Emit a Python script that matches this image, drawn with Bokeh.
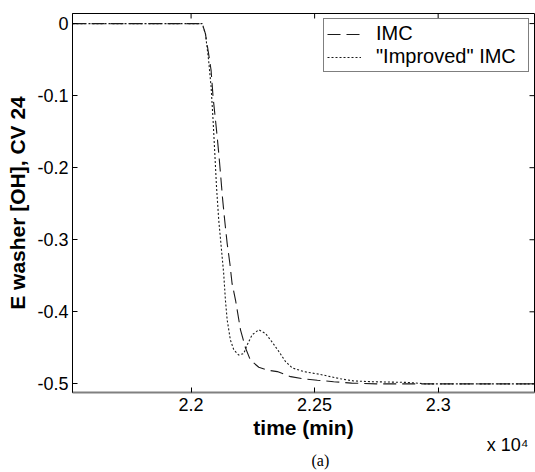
from bokeh.plotting import figure
from bokeh.models import Range1d, FixedTicker, Legend, LegendItem, Title
from bokeh.embed import file_html
from bokeh.resources import INLINE

# ---- data ----
imc_t = [21520, 22045, 22058, 22071, 22081, 22089, 22103, 22112, 22119, 22128,
         22136, 22146, 22157, 22166, 22180, 22200, 22220, 22240, 22274, 22308,
         22349, 22403, 22455, 22511, 22577, 22650, 22750, 22900, 23390]
imc_v = [0.0, 0.0, -0.014, -0.042, -0.065, -0.102, -0.148, -0.180, -0.208, -0.245,
         -0.273, -0.305, -0.333, -0.361, -0.384, -0.425, -0.450, -0.467, -0.477, -0.481,
         -0.483, -0.490, -0.493, -0.495, -0.497, -0.499, -0.500, -0.500, -0.500]

imp_t = [21520, 22045, 22058, 22071, 22081, 22089, 22096, 22103, 22112, 22122,
         22132, 22139, 22146, 22159, 22173, 22193, 22213, 22227, 22247, 22274,
         22301, 22328, 22355, 22382, 22410, 22457, 22524, 22605, 22659, 22727,
         22876, 22950, 23390]
imp_v = [0.0, 0.0, -0.014, -0.051, -0.088, -0.134, -0.180, -0.227, -0.273, -0.310,
         -0.347, -0.384, -0.411, -0.439, -0.453, -0.460, -0.458, -0.446, -0.432, -0.425,
         -0.430, -0.442, -0.455, -0.469, -0.478, -0.483, -0.487, -0.493, -0.496, -0.497,
         -0.498, -0.500, -0.500]

x_ticks = [22000, 22500, 23000]
x_tick_labels = ["2.2", "2.25", "2.3"]
y_ticks = [0.0, -0.1, -0.2, -0.3, -0.4, -0.5]
y_tick_labels = ["0", "-0.1", "-0.2", "-0.3", "-0.4", "-0.5"]

series_names = ["IMC", '"Improved" IMC']
x_label = "time (min)"
y_label = "E washer [OH], CV 24"
exp_label = "x 10\u2074"
caption = "(a)"

X_START, X_END = 21520, 23390
Y_START, Y_END = -0.512, 0.014

FONT = "Liberation Sans"

p = figure(width=535, height=472, output_backend="svg", toolbar_location=None,
           x_range=Range1d(X_START, X_END), y_range=Range1d(Y_START, Y_END),
           min_border_left=72, min_border_right=1, min_border_top=13,
           min_border_bottom=80)
p.background_fill_color = "white"
p.border_fill_color = "white"
p.outline_line_color = "black"
p.outline_line_width = 1
p.xgrid.visible = False
p.ygrid.visible = False

r1 = p.line(imc_t, imc_v, line_color="#1a1a1a", line_width=1.1, line_dash="13 6")
r2 = p.line(imp_t, imp_v, line_color="#1a1a1a", line_width=1.1, line_dash="2 2")

# inward ticks on the top and right edges (half of each dash is clipped by the frame)
p.scatter(x=x_ticks, y=[Y_END] * len(x_ticks), marker="dash", size=10,
          angle=1.5708, line_color="black", line_width=1)
p.scatter(x=[X_END] * len(y_ticks), y=y_ticks, marker="dash", size=10,
          line_color="black", line_width=1)

# bottom axis
xa = p.xaxis[0]
xa.ticker = FixedTicker(ticks=x_ticks)
xa.major_label_overrides = dict(zip(x_ticks, x_tick_labels))
xa.major_tick_in = 5
xa.major_tick_out = 0
xa.minor_tick_line_color = None
xa.axis_line_color = "#808080"
xa.axis_line_width = 2
xa.major_tick_line_color = "black"
xa.major_label_text_font = FONT
xa.major_label_text_font_size = "18px"
xa.major_label_text_color = "black"
xa.major_label_standoff = 5
xa.axis_label = x_label
xa.axis_label_text_font = FONT
xa.axis_label_text_font_style = "bold"
xa.axis_label_text_font_size = "21px"
xa.axis_label_text_color = "black"
xa.axis_label_standoff = 2

# left axis
ya = p.yaxis[0]
ya.ticker = FixedTicker(ticks=y_ticks)
ya.major_label_overrides = dict(zip(y_ticks, y_tick_labels))
ya.major_tick_in = 5
ya.major_tick_out = 0
ya.minor_tick_line_color = None
ya.axis_line_color = "black"
ya.major_tick_line_color = "black"
ya.major_label_text_font = FONT
ya.major_label_text_font_size = "18px"
ya.major_label_text_color = "black"
ya.major_label_standoff = 4
ya.axis_label = y_label
ya.axis_label_text_font = FONT
ya.axis_label_text_font_style = "bold"
ya.axis_label_text_font_size = "21px"
ya.axis_label_text_color = "black"
ya.axis_label_standoff = 5

legend = Legend(items=[LegendItem(label=series_names[0], renderers=[r1]),
                       LegendItem(label=series_names[1], renderers=[r2])],
                location="top_right", margin=5, padding=3, spacing=0,
                label_text_font=FONT, label_text_font_size="20px",
                label_text_color="black", label_height=20, glyph_height=20,
                glyph_width=34, label_standoff=15, label_width=149,
                border_line_color="black", border_line_width=1,
                background_fill_color="white", background_fill_alpha=1.0)
p.add_layout(legend)

# exponent note and caption below the x axis
p.add_layout(Title(text=exp_label, align="right", vertical_align="top", offset=6,
                   standoff=-14, text_font=FONT, text_font_size="18px",
                   text_font_style="normal", text_color="black"), "below")
p.add_layout(Title(text=caption, align="left", vertical_align="bottom", offset=239,
                   standoff=0, text_font="Liberation Serif", text_font_size="16px",
                   text_font_style="normal", text_color="black"), "below")

open("out.html", "w").write(file_html(p, INLINE))
